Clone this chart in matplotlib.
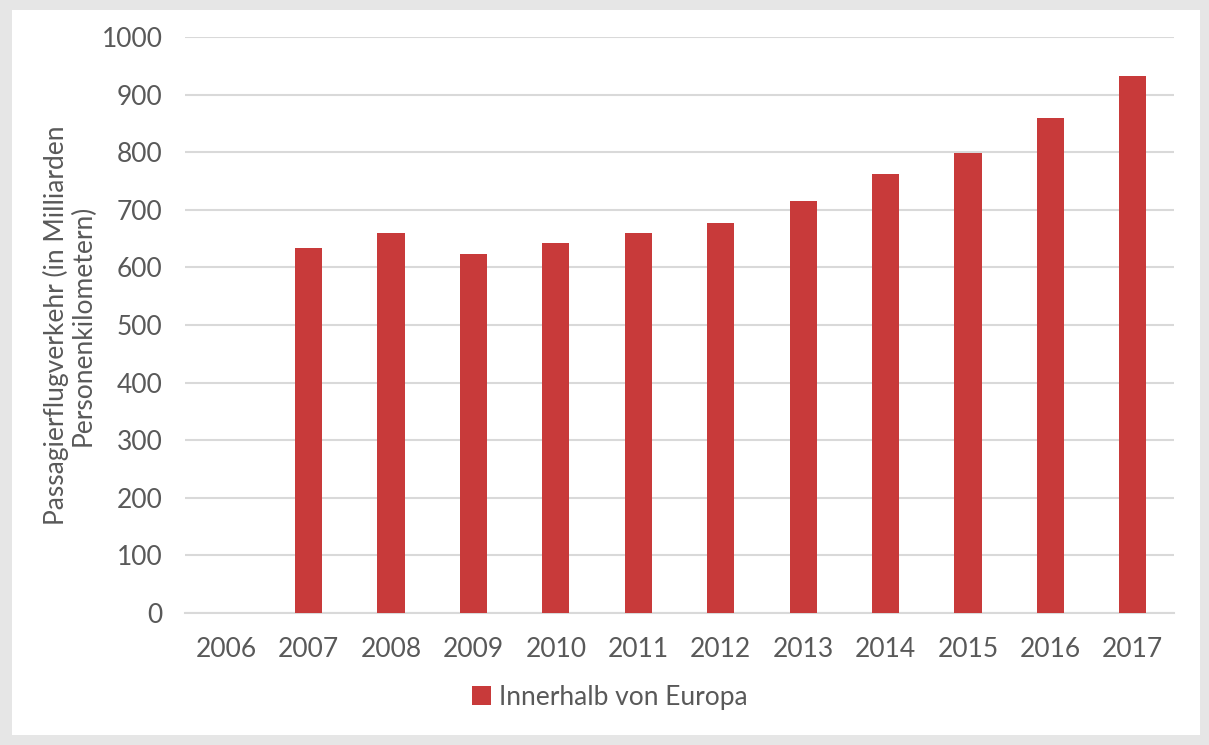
import matplotlib.pyplot as plt
from matplotlib.patches import Rectangle, Patch
import numpy as np

years = ['2006', '2007', '2008', '2009', '2010', '2011',
		 '2012', '2013', '2014', '2015', '2016', '2017']
# passenger air traffic within Europe, billion passenger-km (2006 has no value)
values = [np.nan, 633, 659, 624, 642, 659, 677, 715, 763, 798, 859, 932]
yticks = [0, 100, 200, 300, 400, 500, 600, 700, 800, 900, 1000]

bar_color = '#C83A3A'
text_color = '#595959'
grid_color = '#D9D9D9'
fs = 19

plt.rcParams['font.family'] = ['Lato', 'DejaVu Sans']

W, H = 1209, 745
fig = plt.figure(figsize=(W / 100, H / 100), dpi=100)
fig.patch.set_facecolor('#E6E6E6')

# white card behind the chart
card = Rectangle((12 / W, 10 / H), (1200 - 12) / W, (735 - 10) / H,
				 transform=fig.transFigure, facecolor='white',
				 edgecolor='none', zorder=-10)
fig.add_artist(card)

ax = fig.add_axes([185 / W, (H - 613) / H, (1174 - 185) / W, (613 - 37) / H])
ax.set_facecolor('none')

x = np.arange(len(years))
ax.bar(x, values, width=0.33, color=bar_color, zorder=3)

ax.set_xlim(-0.5, len(years) - 0.5)
ax.set_ylim(0, 1000)
ax.set_yticks(yticks)
ax.set_xticks(x)
ax.set_xticklabels(years)

ax.grid(axis='y', color=grid_color, linewidth=1.5, zorder=0)
for side in ['top', 'right', 'left']:
	ax.spines[side].set_visible(False)
ax.spines['bottom'].set_color(grid_color)
ax.spines['bottom'].set_linewidth(1.5)
ax.tick_params(axis='both', length=0, labelsize=fs, colors=text_color)
ax.tick_params(axis='y', pad=16)
ax.tick_params(axis='x', pad=17)

ax.set_ylabel('Passagierflugverkehr (in Milliarden\nPersonenkilometern)',
			  fontsize=fs, color=text_color, linespacing=1.1)
ax.yaxis.set_label_coords(-0.09, 0.5)

handle = Patch(facecolor=bar_color, edgecolor='none')
fig.legend([handle], ['Innerhalb von Europa'], loc='center',
		   bbox_to_anchor=(610 / W, (H - 697) / H), frameon=False,
		   fontsize=fs, labelcolor=text_color, handlelength=0.7,
		   handleheight=0.7, handletextpad=0.3)

fig.savefig('out.png', dpi=100, facecolor=fig.get_facecolor())
